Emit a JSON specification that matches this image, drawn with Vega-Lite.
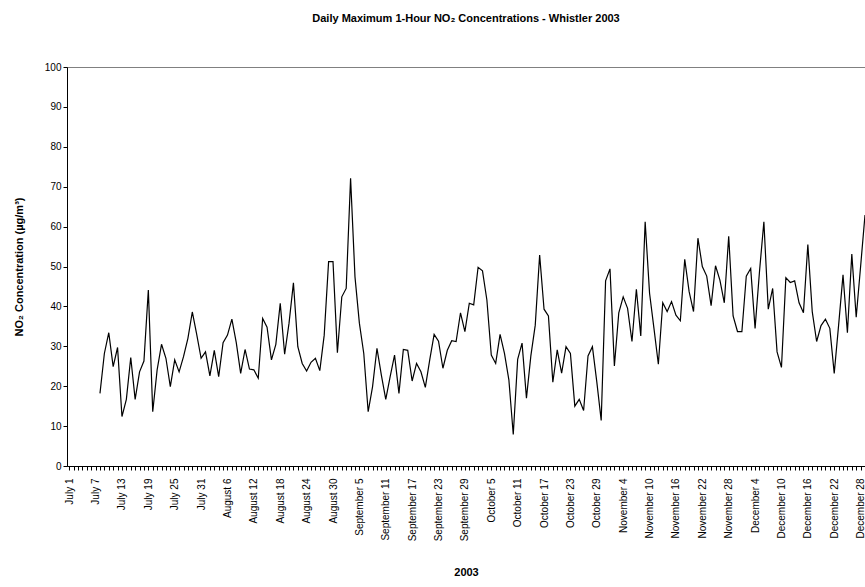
{
  "$schema": "https://vega.github.io/schema/vega-lite/v6.json",
  "autosize": "none",
  "width": 798,
  "height": 399,
  "padding": {"left": 67, "top": 67, "right": 0, "bottom": 121},
  "background": "white",
  "title": {
    "text": "Daily Maximum 1-Hour NO₂ Concentrations - Whistler 2003",
    "font": "Liberation Sans",
    "fontSize": 11,
    "fontWeight": "bold",
    "offset": 38,
    "anchor": "middle"
  },
  "config": {
    "view": {"stroke": "#808080", "strokeWidth": 1},
    "axis": {
      "labelFont": "Liberation Sans",
      "titleFont": "Liberation Sans",
      "labelFontSize": 10,
      "titleFontSize": 11,
      "titleFontWeight": "bold",
      "labelColor": "black",
      "titleColor": "black",
      "domainColor": "black",
      "tickColor": "black",
      "grid": false
    }
  },
  "data": {
    "values": [
      {"date": "2003-07-08", "no2": 18.2}, {"date": "2003-07-09", "no2": 28.2}, {"date": "2003-07-10", "no2": 33.4},
      {"date": "2003-07-11", "no2": 24.9}, {"date": "2003-07-12", "no2": 29.7}, {"date": "2003-07-13", "no2": 12.4},
      {"date": "2003-07-14", "no2": 16.7}, {"date": "2003-07-15", "no2": 27.2}, {"date": "2003-07-16", "no2": 16.7},
      {"date": "2003-07-17", "no2": 23.6}, {"date": "2003-07-18", "no2": 26.3}, {"date": "2003-07-19", "no2": 44.1},
      {"date": "2003-07-20", "no2": 13.6}, {"date": "2003-07-21", "no2": 24.1}, {"date": "2003-07-22", "no2": 30.5},
      {"date": "2003-07-23", "no2": 27}, {"date": "2003-07-24", "no2": 19.9}, {"date": "2003-07-25", "no2": 26.6},
      {"date": "2003-07-26", "no2": 23.6}, {"date": "2003-07-27", "no2": 27.4}, {"date": "2003-07-28", "no2": 32},
      {"date": "2003-07-29", "no2": 38.6}, {"date": "2003-07-30", "no2": 33}, {"date": "2003-07-31", "no2": 27},
      {"date": "2003-08-01", "no2": 28.6}, {"date": "2003-08-02", "no2": 22.6}, {"date": "2003-08-03", "no2": 29},
      {"date": "2003-08-04", "no2": 22.4}, {"date": "2003-08-05", "no2": 30.9}, {"date": "2003-08-06", "no2": 32.8},
      {"date": "2003-08-07", "no2": 36.8}, {"date": "2003-08-08", "no2": 30.9}, {"date": "2003-08-09", "no2": 23.2},
      {"date": "2003-08-10", "no2": 29.2}, {"date": "2003-08-11", "no2": 24.3}, {"date": "2003-08-12", "no2": 24.1},
      {"date": "2003-08-13", "no2": 22}, {"date": "2003-08-14", "no2": 37}, {"date": "2003-08-15", "no2": 34.8},
      {"date": "2003-08-16", "no2": 26.6}, {"date": "2003-08-17", "no2": 30.5}, {"date": "2003-08-18", "no2": 40.8},
      {"date": "2003-08-19", "no2": 28}, {"date": "2003-08-20", "no2": 35.8}, {"date": "2003-08-21", "no2": 45.9},
      {"date": "2003-08-22", "no2": 29.9}, {"date": "2003-08-23", "no2": 25.7}, {"date": "2003-08-24", "no2": 23.8},
      {"date": "2003-08-25", "no2": 26}, {"date": "2003-08-26", "no2": 27}, {"date": "2003-08-27", "no2": 23.9},
      {"date": "2003-08-28", "no2": 32.8}, {"date": "2003-08-29", "no2": 51.2}, {"date": "2003-08-30", "no2": 51.2},
      {"date": "2003-08-31", "no2": 28.4},
      {"date": "2003-09-01", "no2": 42.4}, {"date": "2003-09-02", "no2": 44.5}, {"date": "2003-09-03", "no2": 72.1},
      {"date": "2003-09-04", "no2": 47.4}, {"date": "2003-09-05", "no2": 35.8}, {"date": "2003-09-06", "no2": 28.2},
      {"date": "2003-09-07", "no2": 13.6}, {"date": "2003-09-08", "no2": 19.9}, {"date": "2003-09-09", "no2": 29.5},
      {"date": "2003-09-10", "no2": 22.8}, {"date": "2003-09-11", "no2": 16.7}, {"date": "2003-09-12", "no2": 22.4},
      {"date": "2003-09-13", "no2": 27.8}, {"date": "2003-09-14", "no2": 18.2}, {"date": "2003-09-15", "no2": 29.2},
      {"date": "2003-09-16", "no2": 29}, {"date": "2003-09-17", "no2": 21.3}, {"date": "2003-09-18", "no2": 25.7},
      {"date": "2003-09-19", "no2": 23.6}, {"date": "2003-09-20", "no2": 19.7}, {"date": "2003-09-21", "no2": 26.6},
      {"date": "2003-09-22", "no2": 33}, {"date": "2003-09-23", "no2": 31.3}, {"date": "2003-09-24", "no2": 24.5},
      {"date": "2003-09-25", "no2": 29}, {"date": "2003-09-26", "no2": 31.4}, {"date": "2003-09-27", "no2": 31.2},
      {"date": "2003-09-28", "no2": 38.4}, {"date": "2003-09-29", "no2": 33.7}, {"date": "2003-09-30", "no2": 40.8},
      {"date": "2003-10-01", "no2": 40.4}, {"date": "2003-10-02", "no2": 49.8}, {"date": "2003-10-03", "no2": 48.9},
      {"date": "2003-10-04", "no2": 41.6}, {"date": "2003-10-05", "no2": 27.8}, {"date": "2003-10-06", "no2": 25.7},
      {"date": "2003-10-07", "no2": 33}, {"date": "2003-10-08", "no2": 28.2}, {"date": "2003-10-09", "no2": 21.6},
      {"date": "2003-10-10", "no2": 7.9}, {"date": "2003-10-11", "no2": 26.7}, {"date": "2003-10-12", "no2": 30.8},
      {"date": "2003-10-13", "no2": 17}, {"date": "2003-10-14", "no2": 27.6}, {"date": "2003-10-15", "no2": 35.3},
      {"date": "2003-10-16", "no2": 52.9}, {"date": "2003-10-17", "no2": 39.3}, {"date": "2003-10-18", "no2": 37.6},
      {"date": "2003-10-19", "no2": 21}, {"date": "2003-10-20", "no2": 29.1}, {"date": "2003-10-21", "no2": 23.3},
      {"date": "2003-10-22", "no2": 29.9}, {"date": "2003-10-23", "no2": 28.2}, {"date": "2003-10-24", "no2": 15},
      {"date": "2003-10-25", "no2": 16.7}, {"date": "2003-10-26", "no2": 13.9}, {"date": "2003-10-27", "no2": 27.6},
      {"date": "2003-10-28", "no2": 29.9}, {"date": "2003-10-29", "no2": 21.1}, {"date": "2003-10-30", "no2": 11.4},
      {"date": "2003-10-31", "no2": 46.4},
      {"date": "2003-11-01", "no2": 49.4}, {"date": "2003-11-02", "no2": 25.1}, {"date": "2003-11-03", "no2": 38.4},
      {"date": "2003-11-04", "no2": 42.4}, {"date": "2003-11-05", "no2": 39.5}, {"date": "2003-11-06", "no2": 31.2},
      {"date": "2003-11-07", "no2": 44.3}, {"date": "2003-11-08", "no2": 32.6}, {"date": "2003-11-09", "no2": 61.2},
      {"date": "2003-11-10", "no2": 43.3}, {"date": "2003-11-11", "no2": 34.5}, {"date": "2003-11-12", "no2": 25.5},
      {"date": "2003-11-13", "no2": 40.9}, {"date": "2003-11-14", "no2": 38.7}, {"date": "2003-11-15", "no2": 41.2},
      {"date": "2003-11-16", "no2": 37.8}, {"date": "2003-11-17", "no2": 36.4}, {"date": "2003-11-18", "no2": 51.8},
      {"date": "2003-11-19", "no2": 43.7}, {"date": "2003-11-20", "no2": 38.7}, {"date": "2003-11-21", "no2": 57.1},
      {"date": "2003-11-22", "no2": 50}, {"date": "2003-11-23", "no2": 47.6}, {"date": "2003-11-24", "no2": 40.2},
      {"date": "2003-11-25", "no2": 50.2}, {"date": "2003-11-26", "no2": 46.6}, {"date": "2003-11-27", "no2": 40.9},
      {"date": "2003-11-28", "no2": 57.6}, {"date": "2003-11-29", "no2": 37.6}, {"date": "2003-11-30", "no2": 33.7},
      {"date": "2003-12-01", "no2": 33.7}, {"date": "2003-12-02", "no2": 47.6}, {"date": "2003-12-03", "no2": 49.5},
      {"date": "2003-12-04", "no2": 34.5}, {"date": "2003-12-05", "no2": 48.7}, {"date": "2003-12-06", "no2": 61.2},
      {"date": "2003-12-07", "no2": 39.3}, {"date": "2003-12-08", "no2": 44.5}, {"date": "2003-12-09", "no2": 28.6},
      {"date": "2003-12-10", "no2": 24.7}, {"date": "2003-12-11", "no2": 47.2}, {"date": "2003-12-12", "no2": 46},
      {"date": "2003-12-13", "no2": 46.4}, {"date": "2003-12-14", "no2": 40.9}, {"date": "2003-12-15", "no2": 38.4},
      {"date": "2003-12-16", "no2": 55.5}, {"date": "2003-12-17", "no2": 38.7}, {"date": "2003-12-18", "no2": 31.2},
      {"date": "2003-12-19", "no2": 35.2}, {"date": "2003-12-20", "no2": 36.8}, {"date": "2003-12-21", "no2": 34.5},
      {"date": "2003-12-22", "no2": 23.2}, {"date": "2003-12-23", "no2": 35.3}, {"date": "2003-12-24", "no2": 47.9},
      {"date": "2003-12-25", "no2": 33.4}, {"date": "2003-12-26", "no2": 53.1}, {"date": "2003-12-27", "no2": 37.3},
      {"date": "2003-12-28", "no2": 50}, {"date": "2003-12-29", "no2": 62.9}
    ]
  },
  "mark": {"type": "line", "color": "black", "strokeWidth": 1.2, "clip": true},
  "encoding": {
    "x": {
      "field": "date",
      "type": "temporal",
      "scale": {"type": "utc", "domain": [{"year": 2003, "month": 6, "date": 30, "hours": 12, "utc": true}, {"year": 2003, "month": 12, "date": 29, "utc": true}]},
      "title": "2003",
      "axis": {
        "tickCount": {"interval": "day", "step": 1},
        "labelExpr": "round((datum.value - 1057017600000) / 86400000) % 6 == 0 ? utcFormat(datum.value, '%B %-d') : ''",
        "labelAngle": 270,
        "labelAlign": "right",
        "labelBaseline": "middle",
        "labelOverlap": false,
        "labelPadding": 8,
        "tickSize": 4,
        "titlePadding": 26
      }
    },
    "y": {
      "field": "no2",
      "type": "quantitative",
      "scale": {"domain": [0, 100]},
      "title": "NO₂ Concentration (µg/m³)",
      "axis": {"values": [0, 10, 20, 30, 40, 50, 60, 70, 80, 90, 100], "tickSize": 4, "titlePadding": 20}
    }
  }
}
